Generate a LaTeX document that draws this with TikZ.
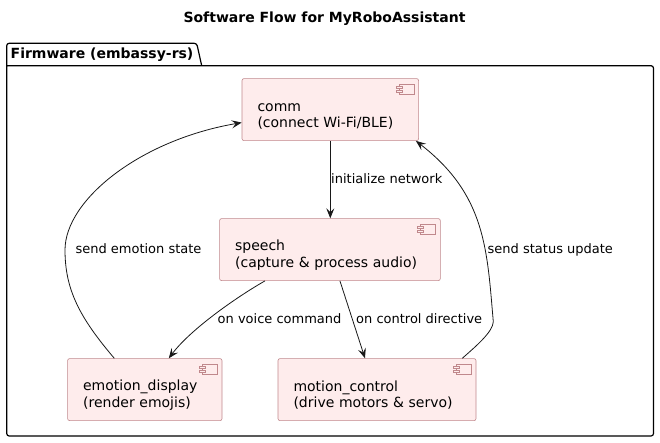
\documentclass[tikz,border=0pt]{standalone}
\usepackage{fontspec}
\setmainfont{DejaVu Sans}
\usetikzlibrary{arrows.meta}
\definecolor{compfill}{RGB}{254,236,236}
\definecolor{compline}{RGB}{192,136,140}
\definecolor{flowline}{RGB}{24,24,24}
% little component symbol in the upper right corner of a box
\newcommand\compicon[1]{%
  \begin{scope}[shift={(#1.north east)},draw=compline,fill=compfill,line width=0.5pt]
    \filldraw (-20,5.5) rectangle (-5,15.5);
    \filldraw (-23,8) rectangle (-17,10);
    \filldraw (-23,11.5) rectangle (-17,13.5);
  \end{scope}}

\begin{document}
\begin{tikzpicture}[x=1pt,y=-1pt,
  comp/.style={draw=compline,fill=compfill,line width=0.6pt,rounded corners=2pt,
    anchor=north west,minimum height=62pt,inner xsep=15.5pt,inner ysep=0pt,
    align=left,font=\fontsize{14}{16.6}\selectfont},
  flow/.style={draw=flowline,line width=0.8pt,
    -{Stealth[length=10pt,width=8pt,inset=4pt]}},
  lbl/.style={anchor=base west,inner sep=0pt,font=\fontsize{13}{15}\selectfont},
  head/.style={inner sep=0pt,font=\bfseries\fontsize{14}{16}\selectfont}]
\useasboundingbox (0,0) rectangle (660,443);

\node[head,anchor=base] (title) at (324.5,22.7) {Software Flow for MyRoboAssistant};

% package frame
\draw[line width=1.2pt,rounded corners=2.5pt] (6.7,65.7) -- (653.5,65.7)
  -- (653.5,436) -- (6.7,436) -- (6.7,43.3) -- (196.7,43.3) -- (201.7,65.7);
\node[head,anchor=base west] (pkg) at (10.5,58.3) {Firmware (embassy-rs)};

% components
\node[comp,text width=145.6pt] (comm) at (241.7,78.3)
  {\rule{0pt}{22pt}comm\\(connect Wi-Fi/BLE)};
\node[comp,text width=189.7pt] (speech) at (219.3,218.3)
  {\rule{0pt}{22pt}speech\\(capture \& process audio)};
\node[comp,text width=123.4pt] (emotion) at (67.3,358.3)
  {\rule{0pt}{22pt}emotion\_display\\(render emojis)};
\node[comp,text width=167pt] (motion) at (277.7,358.3)
  {\rule{0pt}{22pt}motion\_control\\(drive motors \& servo)};
\compicon{comm}
\compicon{speech}
\compicon{emotion}
\compicon{motion}

% flows
\draw[flow] (comm.south) -- (comm.south |- speech.north);
\node[lbl] (lblinit) at (331,184) {initialize network};

\draw[flow] ([xshift=-65pt]speech.south) .. controls (235,298) and (190,330)
  .. ([xshift=24pt]emotion.north);
\node[lbl] (lblvoice) at (217.5,323.3) {on voice command};

\draw[flow] ([xshift=10pt]speech.south) -- ([xshift=-12pt]motion.north);
\node[lbl] (lblctrl) at (356,323.3) {on control directive};

\draw[flow] ([xshift=-30.5pt]emotion.north) .. controls (80,318) and (65,290)
  .. (65,250) .. controls (65,200) and (140,140) .. ([yshift=-13pt]comm.west);
\node[lbl] (lblemo) at (75.3,254) {send emotion state};

\draw[flow] ([xshift=-14pt]motion.north east) .. controls (475,347) and (493,332)
  .. (493.3,321.7) .. controls (487,250) and (486,195) .. ([xshift=-3pt]comm.south east);
\node[lbl] (lblstatus) at (487.5,254) {send status update};
\end{tikzpicture}
\end{document}
